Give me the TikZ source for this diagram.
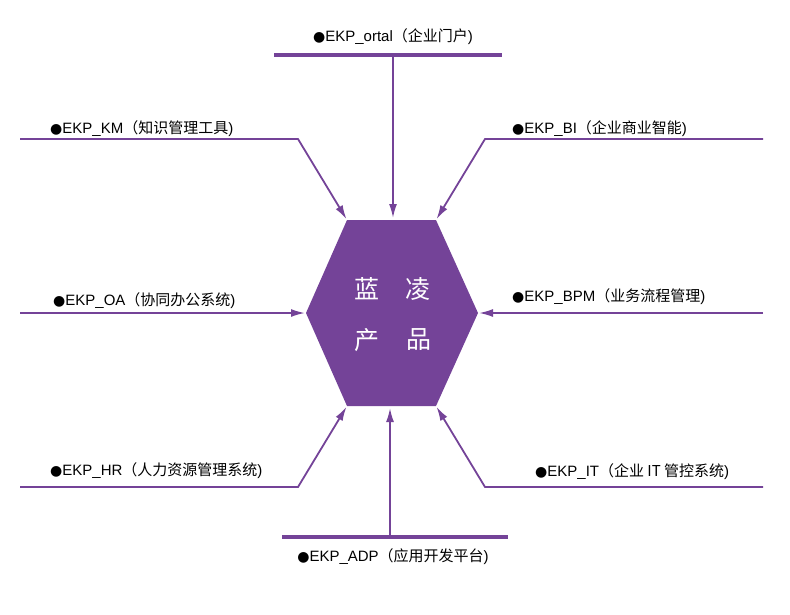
\documentclass[tikz,border=0pt]{standalone}
\usepackage{fontspec}
\setmainfont{Liberation Sans}
\newfontfamily\cjk{Noto Sans CJK SC}
\newfontfamily\dotfont{DejaVu Sans}
\usetikzlibrary{arrows.meta}
\definecolor{lkpurple}{RGB}{116,67,152}
\tikzset{
  conn/.style={draw=lkpurple,line width=1.8pt,-{Latex[length=14pt,width=8pt]},shorten >=1pt},
  bar/.style={draw=lkpurple,line width=3.6pt},
  lbl/.style={inner sep=0pt,font=\fontsize{15}{18}\selectfont},
  hexchar/.style={text=white,font=\cjk\fontsize{25}{28}\selectfont},
}
\newcommand{\ekp}[2]{{\dotfont\fontsize{14}{14}\selectfont ●}EKP\_#1{\cjk （#2}{)}}
\begin{document}
\begin{tikzpicture}[x=1pt,y=-1pt]
  \useasboundingbox (0,0) rectangle (790,614);
  % hexagon
  \coordinate (tl) at (347,220);
  \coordinate (tr) at (436,220);
  \coordinate (r) at (478,313);
  \coordinate (br) at (436,406);
  \coordinate (bl) at (347,406);
  \coordinate (l) at (306,313);
  \fill[lkpurple] (tl) -- (tr) -- (r) -- (br) -- (bl) -- (l) -- cycle;
  \draw
    (367,289) node[hexchar] (lan){蓝}
    (418,289) node[hexchar] (ling){凌}
    (367,340) node[hexchar] (chan){产}
    (419,340) node[hexchar] (pin){品};
  % labels
  \draw
    (393,41) node[lbl,anchor=base] (portal){\ekp{ortal}{企业门户}}
    (50,133) node[lbl,anchor=base west] (km){\ekp{KM}{知识管理工具}}
    (512,133) node[lbl,anchor=base west] (bi){\ekp{BI}{企业商业智能}}
    (53,305) node[lbl,anchor=base west] (oa){\ekp{OA}{协同办公系统}}
    (512,301) node[lbl,anchor=base west] (bpm){\ekp{BPM}{业务流程管理}}
    (50,475) node[lbl,anchor=base west] (hr){\ekp{HR}{人力资源管理系统}}
    (535,476) node[lbl,anchor=base west] (it){\ekp{IT}{企业 IT 管控系统}}
    (393,561) node[lbl,anchor=base] (adp){\ekp{ADP}{应用开发平台}};
  % line ends
  \coordinate (portalL) at (274,55);
  \coordinate (portalR) at (502,55);
  \coordinate (portalM) at (393,55);
  \coordinate (adpL) at (282,537);
  \coordinate (adpR) at (508,537);
  \coordinate (adpM) at (390,537);
  \coordinate (km0) at (20,139);
  \coordinate (km1) at (298,139);
  \coordinate (bi0) at (763,139);
  \coordinate (bi1) at (485,139);
  \coordinate (oa0) at (20,313);
  \coordinate (bpm0) at (763,313);
  \coordinate (hr0) at (20,487);
  \coordinate (hr1) at (298,487);
  \coordinate (it0) at (763,487);
  \coordinate (it1) at (485,487);
  \begin{scope}
    \draw[bar] (portalL) to (portalR);
    \draw[bar] (adpL) to (adpR);
    \draw[conn] (portalM) to (393,219);
    \draw[conn] (adpM) to (390,407);
    \draw[conn] (km0) -- (km1) -- (tl);
    \draw[conn] (bi0) -- (bi1) -- (tr);
    \draw[conn] (oa0) -- (l);
    \draw[conn] (bpm0) -- (r);
    \draw[conn] (hr0) -- (hr1) -- (bl);
    \draw[conn] (it0) -- (it1) -- (br);
  \end{scope}
\end{tikzpicture}
\end{document}
